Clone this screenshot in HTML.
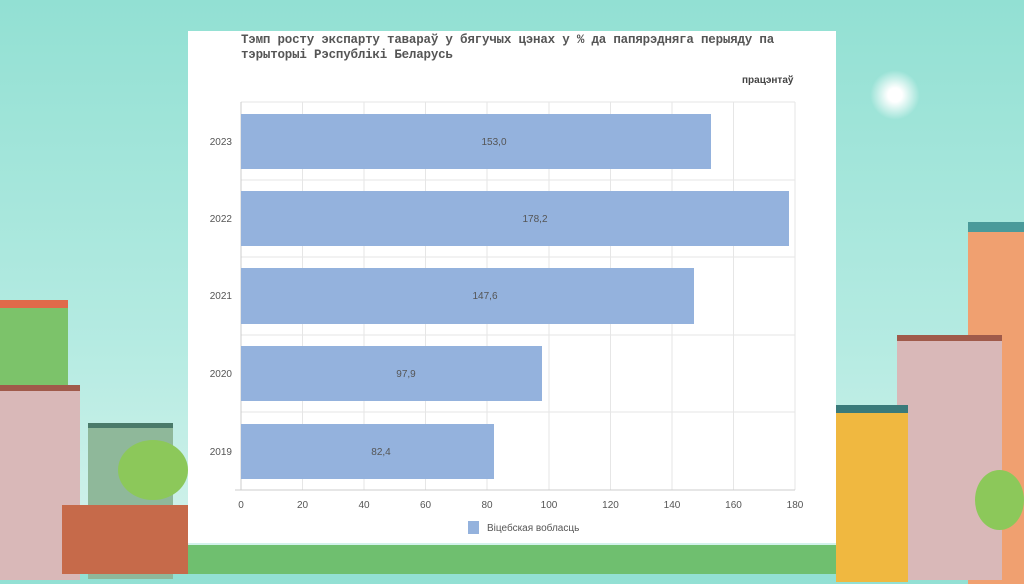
<!DOCTYPE html>
<html><head><meta charset="utf-8"><style>
body{margin:0;width:1024px;height:574px;overflow:hidden;position:relative;background:linear-gradient(#92e0d3 0%,#b5ebe2 60%,#d6f3ec 100%);font-family:"Liberation Sans",sans-serif}
.b{position:absolute}
</style></head><body>
<div class="b" style="left:0;top:545px;width:1024px;height:29px;background:#6fbf6f"></div>
<div class="b" style="left:0;top:300px;width:68px;height:90px;background:#7cc36a;border-top:8px solid #e06a4a"></div>
<div class="b" style="left:0;top:385px;width:80px;height:189px;background:#d9b8b8;border-top:6px solid #a05a4a"></div>
<div class="b" style="left:88px;top:423px;width:85px;height:151px;background:#8fb89a;border-top:5px solid #4a7a6a"></div>
<div class="b" style="left:62px;top:505px;width:126px;height:69px;background:#c66a4a"></div>
<div class="b" style="left:118px;top:440px;width:70px;height:60px;border-radius:50%;background:#8cc85a"></div>
<div class="b" style="left:968px;top:222px;width:56px;height:352px;background:#f0a070;border-top:10px solid #4a9a9a"></div>
<div class="b" style="left:897px;top:335px;width:105px;height:239px;background:#d9b8b8;border-top:6px solid #a05a4a"></div>
<div class="b" style="left:836px;top:405px;width:72px;height:169px;background:#f0b840;border-top:8px solid #3a7a7a"></div>
<div class="b" style="left:975px;top:470px;width:49px;height:60px;border-radius:50%;background:#8cc85a"></div>
<div class="b" style="left:870px;top:70px;width:50px;height:50px;border-radius:50%;background:radial-gradient(#fff 20%,rgba(255,255,255,0) 70%)"></div>
<div class="b" style="left:188px;top:31px;width:648px;height:512px;background:#fff"></div>
<div class="b" style="left:241px;top:33px;font-family:'Liberation Mono',monospace;font-size:12.5px;line-height:15px;color:#555;font-weight:bold;letter-spacing:-0.2px">Тэмп росту экспарту тавараў у бягучых цэнах у % да папярэдняга перыяду па<br>тэрыторыі Рэспублікі Беларусь</div>
<div class="b" style="left:742px;top:75px;font-size:10px;color:#444;font-weight:bold">працэнтаў</div>
<svg class="b" style="left:0;top:0" width="1024" height="574">
<g stroke="#e6e6e6" stroke-width="1">
<line x1="241" y1="102" x2="795" y2="102"/><line x1="241" y1="180" x2="795" y2="180"/><line x1="241" y1="257" x2="795" y2="257"/><line x1="241" y1="335" x2="795" y2="335"/><line x1="241" y1="412" x2="795" y2="412"/>
<line x1="302.5" y1="102" x2="302.5" y2="490"/><line x1="364" y1="102" x2="364" y2="490"/><line x1="425.5" y1="102" x2="425.5" y2="490"/><line x1="487" y1="102" x2="487" y2="490"/><line x1="549" y1="102" x2="549" y2="490"/><line x1="610.5" y1="102" x2="610.5" y2="490"/><line x1="672" y1="102" x2="672" y2="490"/><line x1="733.5" y1="102" x2="733.5" y2="490"/><line x1="795" y1="102" x2="795" y2="490"/>
</g>
<line x1="241" y1="102" x2="241" y2="490" stroke="#ccc"/>
<line x1="235" y1="490" x2="795" y2="490" stroke="#ccc"/>
<g fill="#94b2dd">
<rect x="241" y="114" width="470" height="55"/>
<rect x="241" y="191" width="548" height="55"/>
<rect x="241" y="268" width="453" height="56"/>
<rect x="241" y="346" width="301" height="55"/>
<rect x="241" y="424" width="253" height="55"/>
</g>
<g font-size="10" fill="#555" text-anchor="middle">
<text x="494" y="145">153,0</text><text x="535" y="222">178,2</text><text x="485" y="299">147,6</text><text x="406" y="377">97,9</text><text x="381" y="455">82,4</text>
</g>
<g font-size="10" fill="#555" text-anchor="end">
<text x="232" y="145">2023</text><text x="232" y="222">2022</text><text x="232" y="299">2021</text><text x="232" y="377">2020</text><text x="232" y="455">2019</text>
</g>
<g font-size="10" fill="#555" text-anchor="middle">
<text x="241" y="508">0</text><text x="302.5" y="508">20</text><text x="364" y="508">40</text><text x="425.5" y="508">60</text><text x="487" y="508">80</text><text x="549" y="508">100</text><text x="610.5" y="508">120</text><text x="672" y="508">140</text><text x="733.5" y="508">160</text><text x="795" y="508">180</text>
</g>
<rect x="468" y="521" width="11" height="13" fill="#94b2dd"/>
<text x="487" y="531" font-size="10" fill="#555">Віцебская вобласць</text>
</svg>
</body></html>
